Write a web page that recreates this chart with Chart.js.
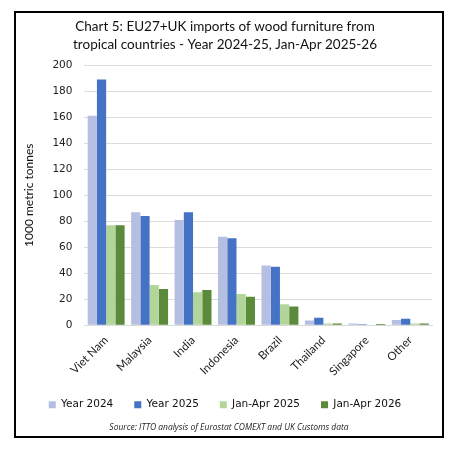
<!DOCTYPE html>
<html><head><meta charset="utf-8">
<script src="https://cdn.jsdelivr.net/npm/chart.js@4"></script>
<style>
html,body{margin:0;padding:0;background:#fff;}
#wrap{position:relative;width:458px;height:453px;}
#frame{position:absolute;left:14px;top:11px;width:426px;height:423px;border:2px solid #000;}
#src{position:absolute;left:0;width:458px;top:421px;text-align:center;font:italic 8.5px "Open Sans",sans-serif;color:#222;}
canvas{position:absolute;left:0;top:0;}
</style></head>
<body><div id="wrap"><div id="frame"></div><canvas id="c" width="458" height="453"></canvas>
<div id="src">Source: ITTO analysis of Eurostat COMEXT and UK Customs data</div></div>
<script>
const categories = ["Viet Nam","Malaysia","India","Indonesia","Brazil","Thailand","Singapore","Other"];
const year2024 = [161, 87, 81, 68, 46, 3.8, 1.5, 4.1];
const year2025 = [189, 84, 87, 67, 45, 5.9, 0.8, 5.1];
const janApr2025 = [77, 31, 25.5, 24, 16.2, 1.5, 0.5, 1.5];
const janApr2026 = [77, 28, 27.2, 22, 14.5, 1.5, 1, 1.5];
const seriesNames = ["Year 2024","Year 2025","Jan-Apr 2025","Jan-Apr 2026"];
const colors = ["#b4bfe1","#4472c4","#b2d69a","#5a8a3a"];
const yTicks = [0,20,40,60,80,100,120,140,160,180,200];

const data = {
  labels: categories,
  datasets: [year2024, year2025, janApr2025, janApr2026].map((d,i)=>({
    label: seriesNames[i], data: d, backgroundColor: colors[i], borderWidth:0,
    categoryPercentage: 0.85, barPercentage: 1.0
  }))
};
new Chart(document.getElementById('c'), {
  type: 'bar',
  data,
  options: {
    responsive:false, animation:false, devicePixelRatio:1,
    layout:{padding:{left:18,right:26,top:18,bottom:33}},
    plugins:{
      title:{display:true, text:["Chart 5: EU27+UK imports of wood furniture from","tropical countries - Year 2024-25, Jan-Apr 2025-26"],
        color:'#111', font:{family:'Lato', size:13.5, weight:'normal', lineHeight:1.3}, padding:{top:0,bottom:12}},
      legend:{position:'bottom', labels:{boxWidth:7, boxHeight:7, color:'#111', padding:21,
        font:{family:'DejaVu Sans', size:10.5}}},
      tooltip:{enabled:false}
    },
    scales:{
      x:{grid:{display:false}, border:{color:'#d9d9d9'},
        ticks:{color:'#222', maxRotation:45, minRotation:45, font:{family:'Lato', size:11.5}, padding:0}},
      y:{min:0,max:200, afterBuildTicks:(ax)=>{ax.ticks=yTicks.map(v=>({value:v}));},
        grid:{color:'#dcdcdc', drawTicks:false}, border:{display:false},
        ticks:{color:'#222', font:{family:'DejaVu Sans', size:10.5}, padding:12},
        title:{display:true, text:'1000 metric tonnes', color:'#111', font:{family:'Lato', size:12}, padding:{bottom:4}}}
    }
  }
});
</script></body></html>
